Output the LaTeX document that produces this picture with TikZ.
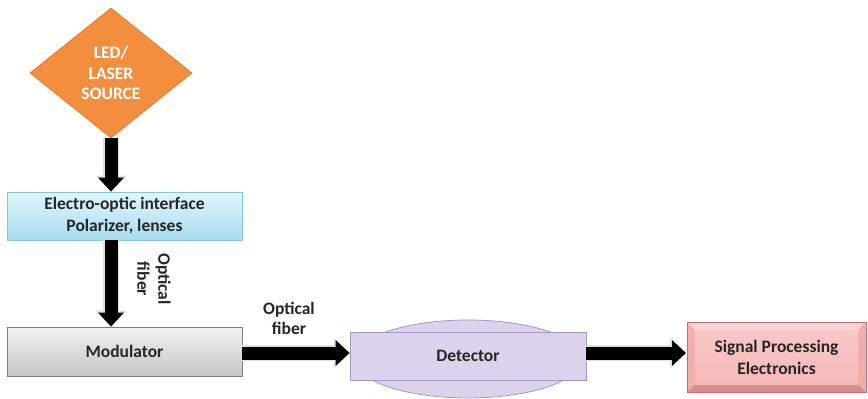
\documentclass[tikz,border=0pt]{standalone}
\usepackage{fontspec}
\setmainfont{Carlito}
\usetikzlibrary{shapes.geometric,arrows.meta}

\definecolor{srcfill}{HTML}{F28E3E}
\definecolor{srcline}{HTML}{E27B2C}
\definecolor{ifctop}{HTML}{E2F5FB}
\definecolor{ifcbot}{HTML}{A6DCEE}
\definecolor{ifcline}{HTML}{86C6DC}
\definecolor{modtop}{HTML}{F2F2F2}
\definecolor{modbot}{HTML}{C4C4C4}
\definecolor{modline}{HTML}{7F7F7F}
\definecolor{detfill}{HTML}{DDD2EC}
\definecolor{detline}{HTML}{A596C8}
\definecolor{sigface}{HTML}{F6B9B9}
\definecolor{sigtop}{HTML}{FBD6D6}
\definecolor{sigside}{HTML}{F3AFAF}
\definecolor{sigbot}{HTML}{DE8C8C}
\definecolor{sigline}{HTML}{C96E6E}
\definecolor{inktext}{HTML}{262626}

\tikzset{
  lbl/.style={font=\fontsize{17.5}{22}\selectfont\bfseries, text=inktext, align=center},
  flowbox/.style={rectangle, draw, line width=0.8pt, inner sep=0pt, lbl},
  bigarrow/.style={draw=black, line width=13pt,
    -{Triangle[length=14pt,width=25pt]}},
  halo/.style={draw=black!12, line width=16pt,
    -{Triangle[length=16pt,width=30pt]}}
}

\begin{document}
\begin{tikzpicture}[x=1pt,y=-1pt]
\useasboundingbox (0,0) rectangle (868,399);

% light source
\node[diamond, fill=srcfill, draw=srcline, line width=0.8pt,
      minimum width=162pt, minimum height=130pt, inner sep=0pt,
      font=\fontsize{17.5}{20.5}\selectfont\bfseries, text=white, align=center]
  (src) at (111,73) {LED/\\LASER\\SOURCE};

% electro-optic interface
\node[flowbox, top color=ifctop, bottom color=ifcbot, draw=ifcline,
      minimum width=235pt, minimum height=48pt]
  (ifc) at (124.5,216) {Electro-optic interface\\Polarizer, lenses};

% modulator
\node[flowbox, top color=modtop, bottom color=modbot, draw=modline,
      minimum width=235pt, minimum height=49pt]
  (mod) at (124.5,351.5) {Modulator};

% detector: lens behind a flat box
\node[ellipse, fill=detfill, draw=detline, line width=0.8pt,
      minimum width=228pt, minimum height=78pt, inner sep=0pt]
  (lens) at (468,359) {};
\node[flowbox, fill=detfill, draw=detline,
      minimum width=236pt, minimum height=48pt]
  (det) at (468,356) {Detector};

% signal processing block with bevelled edges
\fill[sigside] (687,322) rectangle (866,392);
\fill[sigtop] (687,322) -- (866,322) -- (858,330) -- (695,330) -- cycle;
\fill[sigbot] (687,392) -- (866,392) -- (858,384) -- (695,384) -- cycle;
\fill[sigside!90!sigbot] (866,322) -- (866,392) -- (858,384) -- (858,330) -- cycle;
\node[rectangle, inner sep=0pt, top color=sigface!80!white, bottom color=sigface,
      minimum width=163pt, minimum height=54pt]
  (sigface) at (776.5,357) {};
\draw[sigline, line width=0.8pt] (687,322) rectangle (866,392);
\node[lbl] (sig) at (776.5,357) {Signal Processing\\Electronics};

% connectors
\coordinate (a1) at (src.south);
\coordinate (a2) at (ifc.north -| src.south);
\coordinate (a3) at (ifc.south -| src.south);
\coordinate (a4) at (mod.north -| src.south);
\draw[halo] (a1) -- (a2);
\draw[bigarrow] (a1) -- (a2);
\draw[halo] (a3) -- (a4);
\draw[bigarrow] (a3) -- (a4);
\coordinate (m2d) at (mod.east |- 0,353);
\coordinate (d2m) at (det.west |- 0,353);
\draw[halo] (m2d) -- (d2m);
\draw[bigarrow] (m2d) -- (d2m);
\coordinate (d2s) at (det.east |- 0,353);
\coordinate (s2d) at (686,353);
\draw[halo] (d2s) -- (s2d);
\draw[bigarrow] (d2s) -- (s2d);

% fibre labels
\node[lbl, rotate=-90, font=\fontsize{17.5}{21}\selectfont\bfseries]
  (fib1) at (154,279) {Optical\\fiber};
\node[lbl, font=\fontsize{17.5}{20}\selectfont\bfseries]
  (fib2) at (289,318) {Optical\\fiber};
\end{tikzpicture}
\end{document}
